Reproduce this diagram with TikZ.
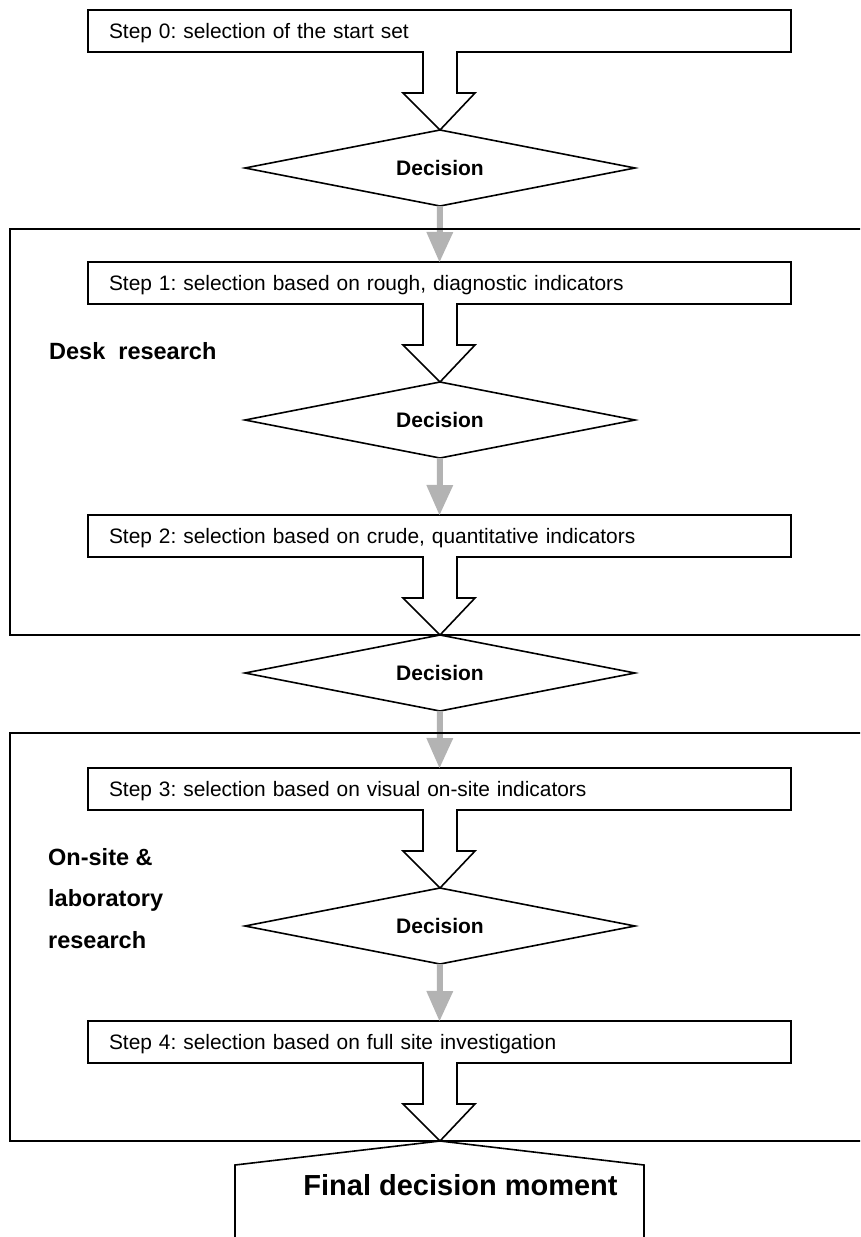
\documentclass[tikz,border=0pt]{standalone}
\usepackage{fontspec}
\setmainfont{Liberation Sans}
\usetikzlibrary{shapes.geometric,arrows.meta,calc}
\definecolor{arrowgray}{RGB}{179,179,179}
\frenchspacing
\tikzset{
  stepbox/.style={draw, fill=white, line width=1.6pt, minimum width=703pt, minimum height=42pt,
    text width=661pt, inner xsep=21pt, inner ysep=0pt, align=left, outer sep=0pt,
    font=\fontsize{20.9}{25}\selectfont, text height=15pt, text depth=0pt},
  decision/.style={draw, fill=white, diamond, aspect=5.13, minimum width=390pt, minimum height=76pt,
    inner sep=0pt, outer sep=0pt, line width=1.6pt, font=\fontsize{21}{25}\selectfont\bfseries},
  grayarrow/.style={color=arrowgray, line width=6pt, -{Triangle[width=27pt,length=30pt,line width=0pt]}},
  bigarrow/.style={fill=white, draw=black, line width=1.6pt, line join=miter},
  groupbox/.style={draw, line width=1.6pt},
  grouplabel/.style={anchor=base west, inner sep=0pt, font=\fontsize{23.5}{28}\selectfont\bfseries},
  finallabel/.style={anchor=base, inner sep=0pt, font=\fontsize{29}{34}\selectfont\bfseries},
  finalshape/.style={draw, line width=1.6pt, line join=miter}
}
\begin{document}
\begin{tikzpicture}[x=1pt,y=-1pt]
\useasboundingbox (0,0) rectangle (860,1237);
\clip (0,0) rectangle (860,1237);

% steps
\node[stepbox] (s0) at (439.5,31)   {Step 0: selection of the start set};
\node[stepbox] (s1) at (439.5,283)  {Step 1: selection based on rough, diagnostic indicators};
\node[stepbox] (s2) at (439.5,536)  {Step 2: selection based on crude, quantitative indicators};
\node[stepbox] (s3) at (439.5,789)  {Step 3: selection based on visual on-site indicators};
\node[stepbox] (s4) at (439.5,1042) {Step 4: selection based on full site investigation};

% decisions
\node[decision] (d1) at (440,168) {Decision};
\node[decision] (d2) at (440,420) {Decision};
\node[decision] (d3) at (440,673) {Decision};
\node[decision] (d4) at (440,926) {Decision};

\coordinate (fin) at (440,1141);

% white block arrows
\foreach \s/\d in {s0/d1.north,s1/d2.north,s2/d3.north,s3/d4.north,s4/fin}{
  \filldraw[bigarrow] ($(\s.south)+(0.5,0)+(-17,-0.9)$) -- ($(\s.south)+(0.5,0)+(-17,41)$)
    -- ($(\s.south)+(0.5,0)+(-37,41)$) -- (\d) -- ($(\s.south)+(0.5,0)+(35,41)$)
    -- ($(\s.south)+(0.5,0)+(17,41)$) -- ($(\s.south)+(0.5,0)+(17,-0.9)$);
}

% gray arrows
\draw[grayarrow] (d1.south) -- (s1.north);
\draw[grayarrow] (d2.south) -- (s2.north);
\draw[grayarrow] (d3.south) -- (s3.north);
\draw[grayarrow] (d4.south) -- (s4.north);

% group boxes
\draw[groupbox] (880,229) -- (10,229) -- (10,635) -- (880,635);
\draw[groupbox] (880,733) -- (10,733) -- (10,1141) -- (880,1141);

\node[grouplabel] (gl1) at (49,359) {Desk\ \ research};
\node[grouplabel] (gl2a) at (48,865) {On-site \&};
\node[grouplabel] (gl2b) at (48,906) {laboratory};
\node[grouplabel] (gl2c) at (48,948) {research};

% final decision moment
\draw[finalshape] (235,1250) -- (235,1165) -- (fin) -- (644,1165) -- (644,1250);
\node[finallabel] (final) at (460.5,1195) {Final decision moment};
\end{tikzpicture}
\end{document}
